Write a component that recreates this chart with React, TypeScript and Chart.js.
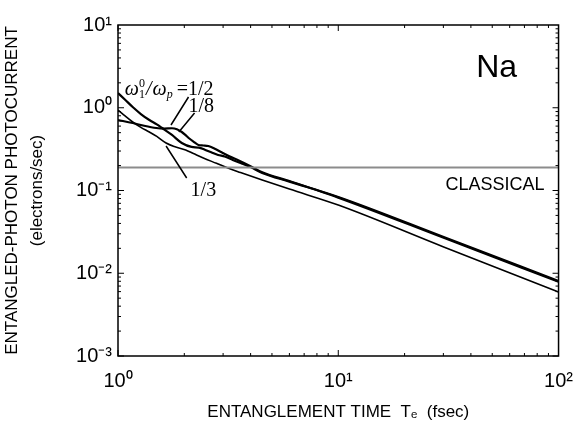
import React, { useEffect, useRef } from 'react';
import { Chart, registerables } from 'chart.js';
Chart.register(...registerables);

// Entanglement time Te (fsec) and photocurrent (electrons/sec)
const timeHalf = [1, 1.08, 1.166, 1.27, 1.388, 1.5, 1.586, 1.758, 1.948, 2.158, 2.33, 2.491, 2.65, 2.847, 3.05, 3.32, 3.6, 3.994, 4.516, 6, 10, 30.1, 100];
const currentHalf = [1.507, 1.24, 1.021, 0.84, 0.711, 0.63, 0.569, 0.469, 0.375, 0.336, 0.33, 0.309, 0.29, 0.269, 0.258, 0.234, 0.215, 0.192, 0.163, 0.128, 0.0835, 0.0274, 0.00806];

const timeEighth = [1, 1.166, 1.3, 1.492, 1.62, 1.758, 1.85, 1.948, 2.02, 2.093, 2.2, 2.319, 2.44, 2.569, 2.75, 2.936, 3.2, 3.494, 3.994, 4.516, 6, 10, 30.1, 100];
const currentEighth = [0.711, 0.654, 0.61, 0.569, 0.56, 0.565, 0.55, 0.509, 0.47, 0.431, 0.39, 0.355, 0.35, 0.345, 0.32, 0.292, 0.26, 0.234, 0.197, 0.166, 0.13, 0.082, 0.0268, 0.0079];

const timeThird = [1, 1.08, 1.166, 1.27, 1.388, 1.5, 1.653, 1.8, 2.029, 2.2, 2.44, 2.8, 3.154, 3.6, 4.516, 6, 10, 30.1, 100];
const currentThird = [0.939, 0.79, 0.673, 0.58, 0.509, 0.45, 0.375, 0.34, 0.309, 0.28, 0.247, 0.213, 0.187, 0.165, 0.134, 0.104, 0.0668, 0.0208, 0.00593];

const timeClassical = [1, 100];
const currentClassical = [0.19, 0.19];

const xRange = [1, 100];
const yRange = [0.001, 10];

const xTitle = 'ENTANGLEMENT TIME  Tₑ  (fsec)';
const yTitle = ['ENTANGLED-PHOTON PHOTOCURRENT', '(electrons/sec)'];

// annotation anchors in data coordinates [T, value]
const ratioLabelAt = [1.074, 1.426];
const label8At = [2.09, 0.888];
const label3At = [2.136, 0.0858];
const leader2 = [[2.09, 1.349], [1.74, 0.619]];
const leader8 = [[2.226, 0.864], [1.889, 0.509]];
const leader3 = [[1.653, 0.345], [2.05, 0.1416]];
const naAt = [42.3, 2.35];
const classicalAt = [30.7, 0.1014];

const SUP: Record<string, string> = { '0': '⁰', '1': '¹', '2': '²', '3': '³', '-': '⁻' };
const isPow10 = (v: number) => Math.abs(Math.log10(v) - Math.round(Math.log10(v))) < 1e-6;
const powLabel = (v: number) => {
  const e = String(Math.round(Math.log10(v)));
  return '10' + e.split('').map((c) => SUP[c]).join('');
};

const pts = (xs: number[], ys: number[]) => xs.map((x, i) => ({ x, y: ys[i] }));

const decorPlugin = {
  id: 'decor',
  afterDatasetsDraw(chart: any) {
    const { ctx, chartArea: a, scales } = chart;
    const xs = scales.x, ys = scales.y;
    const P = (p: number[]) => [xs.getPixelForValue(p[0]), ys.getPixelForValue(p[1])];
    ctx.save();
    // frame
    ctx.strokeStyle = '#000';
    ctx.lineWidth = 1.5;
    ctx.strokeRect(a.left, a.top, a.right - a.left, a.bottom - a.top);
    // inward ticks
    ctx.lineWidth = 1;
    ctx.beginPath();
    for (let k = 0; k < 2; k++) {
      for (let m = 1; m <= 9; m++) {
        const v = m * Math.pow(10, k);
        const px = xs.getPixelForValue(v);
        const len = m === 1 ? 6 : 3;
        ctx.moveTo(px, a.bottom); ctx.lineTo(px, a.bottom - len);
        ctx.moveTo(px, a.top); ctx.lineTo(px, a.top + len);
      }
    }
    for (let k = -3; k < 1; k++) {
      for (let m = 1; m <= 9; m++) {
        const v = m * Math.pow(10, k);
        const py = ys.getPixelForValue(v);
        const len = m === 1 ? 6 : 3;
        ctx.moveTo(a.left, py); ctx.lineTo(a.left + len, py);
        ctx.moveTo(a.right, py); ctx.lineTo(a.right - len, py);
      }
    }
    ctx.stroke();
    // leaders
    ctx.lineWidth = 1.5;
    ctx.beginPath();
    [leader2, leader8, leader3].forEach((l) => {
      const p1 = P(l[0]), p2 = P(l[1]);
      ctx.moveTo(p1[0], p1[1]); ctx.lineTo(p2[0], p2[1]);
    });
    ctx.stroke();
    // ratio label
    ctx.fillStyle = '#000';
    ctx.textBaseline = 'alphabetic';
    ctx.textAlign = 'left';
    let [x, y] = P(ratioLabelAt);
    const big = '20px "Liberation Serif", "DejaVu Serif", serif';
    const bigIt = 'italic 20px "Liberation Serif", "DejaVu Serif", serif';
    const small = '12px "Liberation Serif", serif';
    const smallIt = 'italic 12px "Liberation Serif", serif';
    ctx.font = bigIt; ctx.fillText('ω', x, y); x += ctx.measureText('ω').width;
    ctx.font = small; ctx.fillText('1', x, y + 3); ctx.fillText('0', x, y - 8); x += ctx.measureText('0').width + 1;
    ctx.font = bigIt; ctx.fillText('/', x, y); x += ctx.measureText('/').width + 1;
    ctx.fillText('ω', x, y); x += ctx.measureText('ω').width;
    ctx.font = smallIt; ctx.fillText('p', x, y + 3); x += ctx.measureText('p').width + 4;
    ctx.font = big; ctx.fillText('=', x, y); x += ctx.measureText('=').width;
    ctx.fillText('1/2', x, y);
    let q = P(label8At); ctx.fillText('1/8', q[0], q[1]);
    q = P(label3At); ctx.fillText('1/3', q[0], q[1]);
    // Na
    ctx.font = '32px "Liberation Sans", Arial, sans-serif';
    q = P(naAt); ctx.fillText('Na', q[0], q[1]);
    ctx.font = '18px "Liberation Sans", Arial, sans-serif';
    q = P(classicalAt); ctx.fillText('CLASSICAL', q[0], q[1]);
    ctx.restore();
  },
};

export default function App() {
  const ref = useRef<HTMLCanvasElement>(null);
  useEffect(() => {
    const line = (data: any, w: number, color = '#000') => ({
      data, borderColor: color, backgroundColor: color, borderWidth: w,
      showLine: true, pointRadius: 0, tension: 0, cubicInterpolationMode: 'monotone' as const, fill: false,
    });
    const chart = new Chart(ref.current!, {
      type: 'scatter',
      data: {
        datasets: [
          { ...line(pts(timeClassical, currentClassical), 2, '#8c8c8c'), label: 'CLASSICAL' },
          { ...line(pts(timeHalf, currentHalf), 2.2), label: '1/2' },
          { ...line(pts(timeEighth, currentEighth), 2.2), label: '1/8' },
          { ...line(pts(timeThird, currentThird), 1.6), label: '1/3' },
        ],
      },
      options: {
        animation: false,
        responsive: true,
        maintainAspectRatio: false,
        layout: { padding: { top: 25, right: 19, left: 0, bottom: 0 } },
        plugins: { legend: { display: false }, tooltip: { enabled: false } },
        scales: {
          x: {
            type: 'logarithmic', min: xRange[0], max: xRange[1],
            grid: { display: false, drawTicks: false }, border: { display: false },
            afterFit: (s: any) => { s.height = 66; },
            ticks: {
              autoSkip: false, maxRotation: 0, padding: 13, color: '#000',
              font: { family: '"Liberation Sans", Arial, sans-serif', size: 20 },
              callback: (v: any) => (isPow10(Number(v)) ? powLabel(Number(v)) : ''),
            },
            title: {
              display: true, text: xTitle, color: '#000',
              font: { family: '"Liberation Sans", Arial, sans-serif', size: 17, lineHeight: 1.1 },
              padding: { top: 0, bottom: 0 },
            },
          },
          y: {
            type: 'logarithmic', min: yRange[0], max: yRange[1],
            grid: { display: false, drawTicks: false }, border: { display: false },
            afterFit: (s: any) => { s.width = 118; },
            ticks: {
              autoSkip: false, padding: 6, color: '#000',
              font: { family: '"Liberation Sans", Arial, sans-serif', size: 20 },
              callback: (v: any) => (isPow10(Number(v)) ? powLabel(Number(v)) : ''),
            },
            title: {
              display: true, text: yTitle, color: '#000',
              font: { family: '"Liberation Sans", Arial, sans-serif', size: 17, lineHeight: 1.45 },
              padding: { top: 0, bottom: 0 },
            },
          },
        },
      },
      plugins: [decorPlugin],
    });
    return () => chart.destroy();
  }, []);
  return (
    <div style={{ position: 'fixed', left: 0, top: 0, width: 586, height: 422, background: '#fff' }}>
      <canvas ref={ref} />
    </div>
  );
}
